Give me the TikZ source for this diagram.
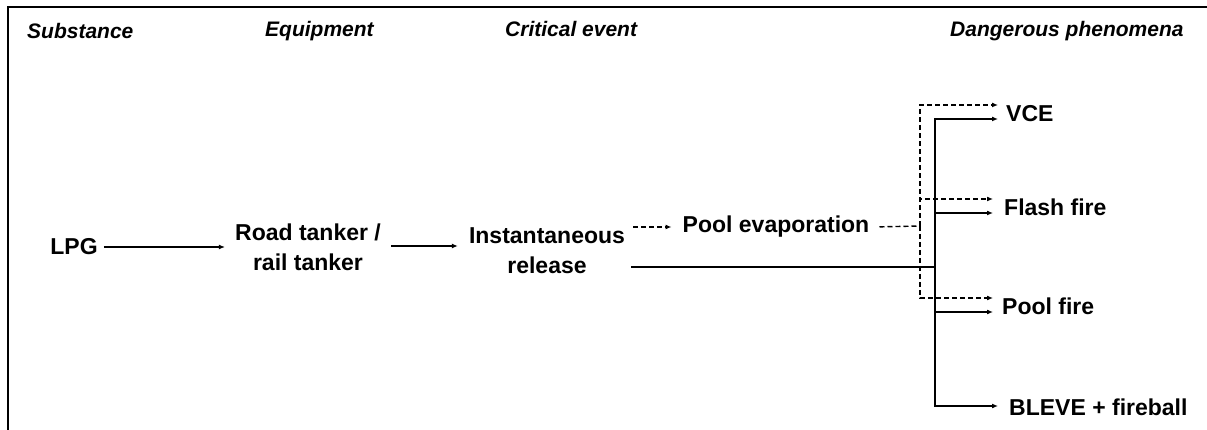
\documentclass[tikz,border=0pt]{standalone}
\usepackage{fontspec}
\setmainfont{Liberation Sans}
\usetikzlibrary{arrows.meta}
\tikzset{
  lbl/.style={font=\bfseries\fontsize{23}{30}\selectfont, inner sep=4pt, align=center},
  hdr/.style={font=\bfseries\itshape\fontsize{21}{25}\selectfont, inner sep=0pt, anchor=west},
  ln/.style={line width=1.6pt},
  arr/.style={ln, -{Latex[length=6pt,width=5pt]}},
  dsh/.style={line width=1.4pt, dash pattern=on 5pt off 3pt},
  darr/.style={dsh, -{Latex[length=6pt,width=5pt]}},
  frame/.style={line width=2.6pt}
}
\begin{document}
\begin{tikzpicture}[x=1pt,y=-1pt]
\useasboundingbox (0,0) rectangle (1207,430);
% frame
\coordinate (fb) at (8,430);
\coordinate (fc) at (8,7);
\coordinate (fr) at (1207,7);
\draw[frame] (fb) -- (fc) -- (fr);
% headers
\node[hdr] (hsub) at (27,31) {Substance};
\node[hdr] (heq) at (265,31) {Equipment};
\node[hdr] (hcrit) at (505,29) {Critical event};
\node[hdr] (hdang) at (950,31) {Dangerous phenomena};
% main nodes
\node[lbl] (lpg) at (74,247) {LPG};
\node[lbl] (tank) at (308,247) {Road tanker /\\rail tanker};
\node[lbl] (inst) at (547,251) {Instantaneous\\release};
\node[lbl] (pevap) at (776,227) {Pool evaporation};
\node[lbl, anchor=west, inner sep=0pt] (vce) at (1006,114) {VCE};
\node[lbl, anchor=west, inner sep=0pt] (flash) at (1004,207) {Flash fire};
\node[lbl, anchor=west, inner sep=0pt] (pool) at (1002,306) {Pool fire};
\node[lbl, anchor=west, inner sep=0pt] (bleve) at (1009,407) {BLEVE + fireball};
% junctions and arrow ends
\coordinate (sj) at (935,267);
\coordinate (dj) at (920,226);
\coordinate (vceD) at (998,105);
\coordinate (vceS) at (998,119);
\coordinate (flashD) at (993,199);
\coordinate (flashS) at (993,213);
\coordinate (poolD) at (993,298);
\coordinate (poolS) at (993,312);
\coordinate (bleveS) at (998,406);
\coordinate (t2) at (0,246);
% connectors
\draw[arr, shorten <=2pt, shorten >=6pt] (lpg.east) -- (tank.west |- lpg.east);
\draw[arr, shorten <=6pt, shorten >=7pt] (tank.east |- t2) -- (inst.west |- t2);
\draw[darr, shorten <=4pt, shorten >=7pt] (inst.east |- pevap.west) -- (pevap.west);
\draw[dsh, shorten <=6pt] (pevap.east) -- (dj);
\draw[darr] (dj) |- (vceD);
\draw[darr] (dj) |- (flashD);
\draw[darr] (dj) |- (poolD);
\draw[ln, shorten <=2pt] (inst.east |- sj) -- (sj);
\draw[arr] (sj) |- (vceS);
\draw[arr] (sj) |- (flashS);
\draw[arr] (sj) |- (poolS);
\draw[arr] (sj) |- (bleveS);
\end{tikzpicture}
\end{document}
